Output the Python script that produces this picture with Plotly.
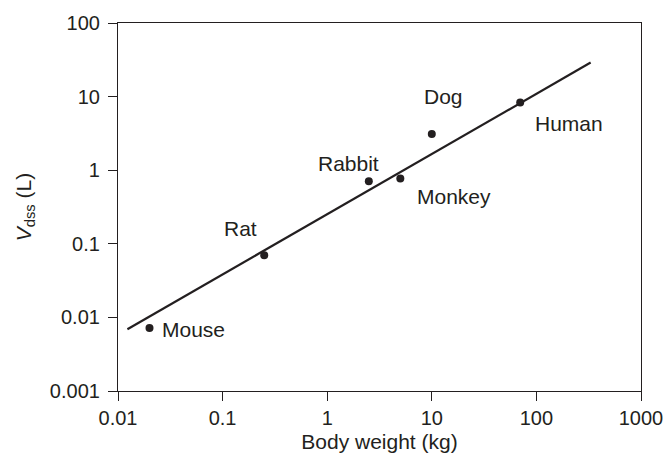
import numpy as np
import plotly.graph_objects as go

species = ["Mouse", "Rat", "Rabbit", "Monkey", "Dog", "Human"]
body_weight = [0.02, 0.25, 2.5, 5.0, 10.0, 70.0]
vdss = [0.0072, 0.070, 0.71, 0.77, 3.1, 8.3]

fit_x = [0.0123, 330]
fit_y = [0.0069, 29.0]

x_ticks = [0.01, 0.1, 1, 10, 100, 1000]
x_tick_labels = ["0.01", "0.1", "1", "10", "100", "1000"]
y_ticks = [0.001, 0.01, 0.1, 1, 10, 100]
y_tick_labels = ["0.001", "0.01", "0.1", "1", "10", "100"]

# label offsets (pixels) relative to each point
label_anchor = ["left", "center", "center", "left", "left", "left"]
label_dx = [11, -24, -20, 15, -10, 13]
label_dy = [-2, 27, 18, -18, 38, -21]

FONT = "Liberation Sans, Arial, Helvetica, sans-serif"
INK = "#231f20"
TXT = 21
TICK = 20

fig = go.Figure()
fig.add_trace(go.Scatter(x=fit_x, y=fit_y, mode="lines",
                         line=dict(color=INK, width=2.2), hoverinfo="skip"))
fig.add_trace(go.Scatter(x=body_weight, y=vdss, mode="markers",
                         marker=dict(color=INK, size=8), hoverinfo="skip"))

for name, xv, yv, anc, dx, dy in zip(species, body_weight, vdss, label_anchor, label_dx, label_dy):
    fig.add_annotation(x=np.log10(xv), y=np.log10(yv), text=name, showarrow=False,
                       xanchor=anc, yanchor="middle", xshift=dx, yshift=dy,
                       font=dict(family=FONT, size=TXT, color=INK))

axis_common = dict(type="log", showgrid=False, zeroline=False, showline=True,
                   linecolor=INK, linewidth=1.2, mirror=True, ticks="outside",
                   ticklen=9, tickwidth=1.2, tickcolor=INK, automargin=False,
                   tickfont=dict(family=FONT, size=TICK, color=INK))

fig.update_xaxes(range=[-2, 3], tickvals=x_ticks, ticktext=x_tick_labels,
                 title=dict(text="Body weight (kg)", font=dict(family=FONT, size=TXT, color=INK),
                            standoff=6),
                 **axis_common)
fig.update_yaxes(range=[-3, 2], tickvals=y_ticks, ticktext=y_tick_labels,
                 title=dict(text="<i>V</i><sub>dss</sub> (L)", font=dict(family=FONT, size=TXT, color=INK),
                            standoff=12),
                 ticklabelstandoff=4,
                 **axis_common)

fig.update_layout(width=664, height=460, showlegend=False,
                  margin=dict(l=118, r=23, t=23, b=69),
                  plot_bgcolor="white", paper_bgcolor="white",
                  font=dict(family=FONT, color=INK))

fig.write_html("out.html")
